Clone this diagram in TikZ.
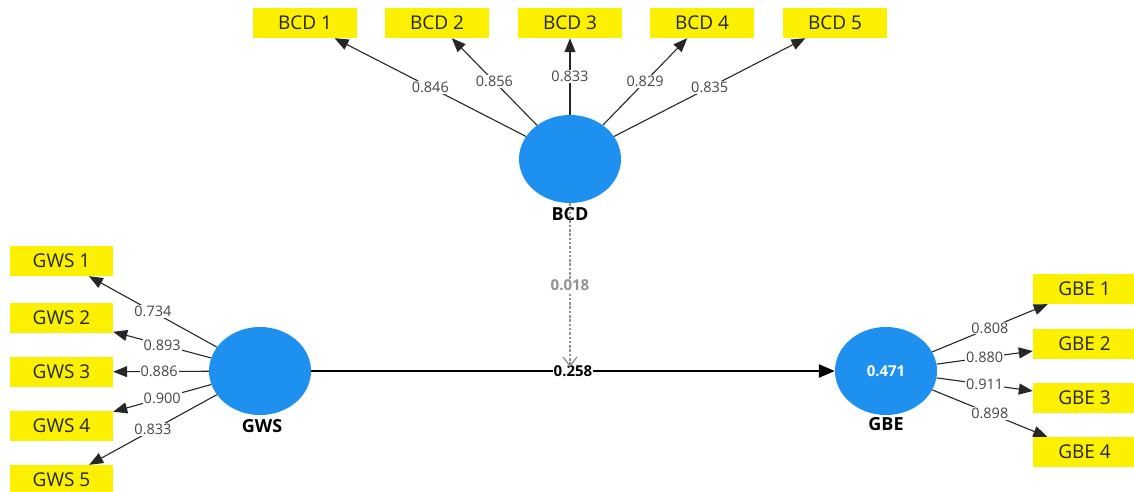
\documentclass[tikz,border=0pt]{standalone}
\usepackage{fontspec}
\setmainfont{Open Sans}
\usetikzlibrary{arrows.meta,shapes.geometric}
\definecolor{lvblue}{RGB}{30,144,240}
\definecolor{indyellow}{RGB}{250,240,0}
\definecolor{wtgray}{RGB}{70,70,70}
\definecolor{dashgray}{RGB}{145,145,145}
\begin{document}
\begin{tikzpicture}[x=1pt,y=-1pt,
  indicator/.style={fill=indyellow, minimum width=104pt, minimum height=30pt,
    inner sep=0pt, text=black!85, font=\fontsize{19}{22}\selectfont},
  latent/.style={ellipse, fill=lvblue, minimum width=102pt, minimum height=88pt,
    inner sep=0pt},
  lvname/.style={text=black, font=\bfseries\fontsize{18}{20}\selectfont},
  loading/.style={-{Triangle[length=14pt,width=11pt]}, line width=1.1pt, black!85},
  wt/.style={fill=white, inner sep=1pt, text=wtgray, font=\fontsize{14.5}{16}\selectfont},
  pathmain/.style={-{Triangle[length=16pt,width=13pt]}, line width=2.4pt, black},
  pathminor/.style={-{Straight Barb[length=9pt,width=14pt,line width=1.3pt]},
    line width=2.4pt, dashgray, dash pattern=on 2.5pt off 1.8pt}
]
\useasboundingbox (0,0) rectangle (1134,492);

% latent variables
\node[latent] (bcd) at (570,159) {};
\node[latent] (gws) at (260,371) {};
\node[latent, text=white, font=\bfseries\fontsize{15}{17}\selectfont] (gbe) at (886,371) {0.471};
\node[lvname] (bcdname) at (570,214) {BCD};
\node[lvname] (gwsname) at (262,426) {GWS};
\node[lvname] (gbename) at (886,424) {GBE};

% BCD indicators
\node[indicator] (b1) at (305,23) {BCD 1};
\node[indicator] (b2) at (437,23) {BCD 2};
\node[indicator] (b3) at (570,23) {BCD 3};
\node[indicator] (b4) at (702,23) {BCD 4};
\node[indicator] (b5) at (835,23) {BCD 5};

% GWS indicators
\node[indicator, minimum width=103pt] (g1) at (61.5,261) {GWS 1};
\node[indicator, minimum width=103pt] (g2) at (61.5,318) {GWS 2};
\node[indicator, minimum width=103pt] (g3) at (61.5,372) {GWS 3};
\node[indicator, minimum width=103pt] (g4) at (61.5,426) {GWS 4};
\node[indicator, minimum width=103pt] (g5) at (61.5,480) {GWS 5};

% GBE indicators
\node[indicator, minimum width=103pt] (e1) at (1084.5,289) {GBE 1};
\node[indicator, minimum width=103pt] (e2) at (1084.5,344) {GBE 2};
\node[indicator, minimum width=103pt] (e3) at (1084.5,398) {GBE 3};
\node[indicator, minimum width=103pt] (e4) at (1084.5,452) {GBE 4};

% outer loadings
\draw[loading] (bcd) -- (b1) node[pos=0.5, wt] {0.846};
\draw[loading] (bcd) -- (b2) node[pos=0.5, wt] {0.856};
\draw[loading] (bcd) -- (b3) node[pos=0.5, wt] {0.833};
\draw[loading] (bcd) -- (b4) node[pos=0.5, wt] {0.829};
\draw[loading] (bcd) -- (b5) node[pos=0.5, wt] {0.835};

\draw[loading] (gws) -- (g1) node[pos=0.5, wt] {0.734};
\draw[loading] (gws) -- (g2) node[pos=0.5, wt] {0.893};
\draw[loading] (gws) -- (g3) node[pos=0.52, wt] {0.886};
\draw[loading] (gws) -- (g4) node[pos=0.5, wt] {0.900};
\draw[loading] (gws) -- (g5) node[pos=0.5, wt] {0.833};

\draw[loading] (gbe) -- (e1) node[pos=0.5, wt] {0.808};
\draw[loading] (gbe) -- (e2) node[pos=0.5, wt] {0.880};
\draw[loading] (gbe) -- (e3) node[pos=0.5, wt] {0.911};
\draw[loading] (gbe) -- (e4) node[pos=0.5, wt] {0.898};

% structural paths
\draw[pathmain] (gws) -- (gbe)
  node[pos=0.5, wt, text=black, font=\bfseries\fontsize{15}{17}\selectfont] {0.258};
\coordinate (modtip) at (570,367);
\draw[pathminor] (bcd) -- (modtip)
  node[pos=0.5, wt, text=dashgray, font=\bfseries\fontsize{15}{17}\selectfont] {0.018};
\end{tikzpicture}
\end{document}
